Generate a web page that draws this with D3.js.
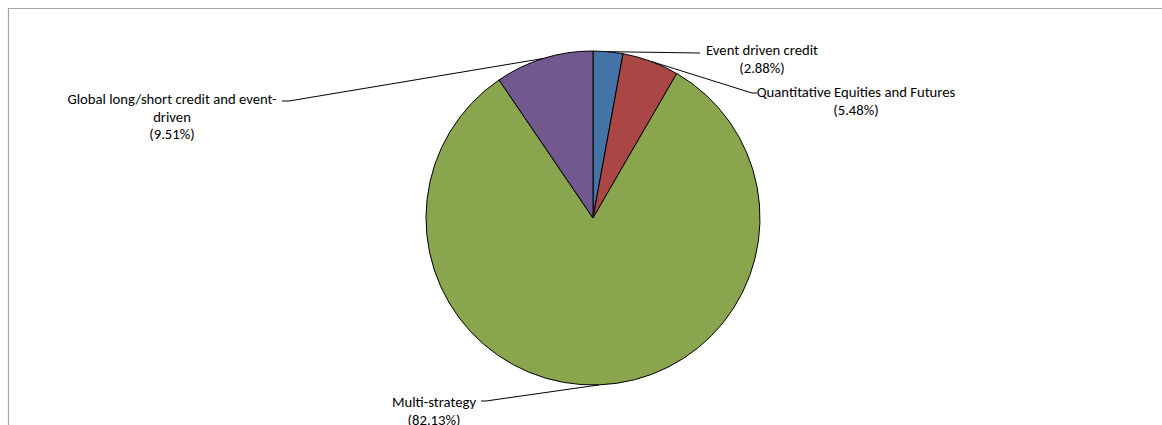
<!DOCTYPE html>
<html><head><meta charset="utf-8">
<script src="https://cdn.jsdelivr.net/npm/d3@7"></script>
<style>body{margin:0;background:#fff}svg{display:block}</style>
</head><body>
<svg id="c" width="1162" height="425"></svg>
<script>
const categories = ["Event driven credit", "Quantitative Equities and Futures", "Multi-strategy", "Global long/short credit and event-driven"];
const values = [2.88, 5.48, 82.13, 9.51];
const labelLines = [["Event driven credit", "(2.88%)"], ["Quantitative Equities and Futures", "(5.48%)"], ["Multi-strategy", "(82.13%)"], ["Global long/short credit and event-", "driven", "(9.51%)"]];
const colors = ["#4572A7", "#AA4643", "#89A54E", "#71588F"];

// layout for labels (text center x, first line center y, leader elbow point)
const labelLayout = [
  {cx: 762, y: 50, elbow: [700, 53], end: [700, 53]},
  {cx: 856, y: 92, elbow: [752, 93], end: [757, 93]},
  {cx: 434, y: 402, elbow: [486, 401], end: [481, 401]},
  {cx: 172, y: 99, elbow: [289, 101], end: [282, 101]}
];

const svg = d3.select("#c");
const W = 1162, H = 425;
svg.append("path").attr("d", `M8.5,${H} V8.5 H${W}`).attr("fill", "none").attr("stroke", "#a6a6a6").attr("stroke-width", 1.2);

const cx = 593, cy = 218, r = 167;
const pie = d3.pie().sort(null).value(d => d)(values);
const arc = d3.arc().innerRadius(0).outerRadius(r);
const g = svg.append("g").attr("transform", `translate(${cx},${cy})`);
g.selectAll("path").data(pie).join("path")
  .attr("d", arc)
  .attr("fill", (d, i) => colors[i])
  .attr("stroke", "#000").attr("stroke-width", 1);

const font = "Carlito, Calibri, Lato, sans-serif";
pie.forEach((d, i) => {
  const a = (d.startAngle + d.endAngle) / 2;
  const px = cx + r * Math.sin(a), py = cy - r * Math.cos(a);
  const L = labelLayout[i];
  svg.append("polyline")
    .attr("points", [[px, py], L.elbow, L.end].map(p => p.join(",")).join(" "))
    .attr("fill", "none").attr("stroke", "#000").attr("stroke-width", 1);
  const t = svg.append("text").attr("font-family", font).attr("font-size", 14.7).attr("fill", "#000")
    .attr("text-anchor", "middle");
  labelLines[i].forEach((s, j) => {
    t.append("tspan").attr("x", L.cx).attr("y", L.y + j * 17.5).attr("dy", "0.35em").text(s);
  });
});
</script>
</body></html>
